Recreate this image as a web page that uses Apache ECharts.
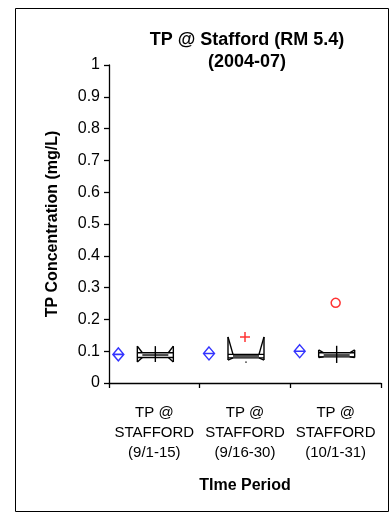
<!DOCTYPE html>
<html><head><meta charset="utf-8">
<script src="https://cdn.jsdelivr.net/npm/echarts@6/dist/echarts.min.js"></script>
<style>html,body{margin:0;padding:0;background:#fff}#c{width:391px;height:519px}</style>
</head><body><div id="c"></div>
<script>
const categories = ['TP @\nSTAFFORD\n(9/1-15)', 'TP @\nSTAFFORD\n(9/16-30)', 'TP @\nSTAFFORD\n(10/1-31)'];
const meanValues = [0.090, 0.093, 0.100];
const whiskerLow = [0.066, 0.072, 0.080];
const whiskerHigh = [0.116, 0.145, 0.104];
const boxLow = [0.080, 0.079, 0.082];
const boxHigh = [0.095, 0.090, 0.095];
const medianValues = [0.088, 0.085, 0.088];
const stemLow = [0.066, 0.064, 0.063];
const stemHigh = [0.116, 0.068, 0.117];
const plusOutliers = [[1, 0.145]];
const circleOutliers = [[2, 0.252]];
const yTicks = [0, 1, 0.1];

const FONT = 'Arial, "Liberation Sans", sans-serif';
const chart = echarts.init(document.getElementById('c'), null, {renderer: 'canvas'});

const boxData = categories.map((c, i) => [i, whiskerLow[i], boxLow[i], medianValues[i], boxHigh[i], whiskerHigh[i], stemLow[i], stemHigh[i]]);

function renderBox(params, api) {
  const i = api.value(0);
  const cx = api.coord([i, 0])[0] + 1;
  const y = v => api.coord([i, v])[1];
  const wl = y(api.value(1)), bl = y(api.value(2)), md = y(api.value(3)), bh = y(api.value(4)), wh = y(api.value(5));
  const sl = y(api.value(6)), sh = y(api.value(7));
  const hw = 18, iw = 13;
  const st = {stroke: '#000', lineWidth: 1.4, fill: null};
  const line = (x1, y1, x2, y2) => ({type: 'line', shape: {x1, y1, x2, y2}, style: st});
  return {type: 'group', children: [
    line(cx - hw, wh, cx - hw, wl),
    line(cx + hw, wh, cx + hw, wl),
    line(cx - hw, wh, cx - iw, bh),
    line(cx + hw, wh, cx + iw, bh),
    line(cx - hw, wl, cx - iw, bl),
    line(cx + hw, wl, cx + iw, bl),
    line(cx - hw, bh, cx + hw, bh),
    line(cx - hw, bl, cx + hw, bl),
    line(cx - iw, md, cx + iw, md),
    line(cx, sh, cx, sl)
  ]};
}

chart.setOption({
  backgroundColor: '#fff',
  animation: false,
  title: {
    text: 'TP @ Stafford (RM 5.4)\n(2004-07)',
    left: 242, top: 24, textAlign: 'center',
    textStyle: {fontFamily: FONT, fontWeight: 'bold', fontSize: 18, lineHeight: 22, color: '#000'}
  },
  graphic: [{type: 'rect', shape: {x: 15.5, y: 8.5, width: 373, height: 503}, style: {fill: null, stroke: '#000', lineWidth: 1}, silent: true}],
  grid: {left: 109, right: 10, top: 65, bottom: 136, containLabel: false},
  xAxis: {
    type: 'category', data: categories, boundaryGap: true,
    name: 'TIme Period', nameLocation: 'middle', nameGap: 95,
    nameTextStyle: {fontFamily: FONT, fontWeight: 'bold', fontSize: 16, color: '#000'},
    axisLine: {lineStyle: {color: '#000', width: 1.3}},
    axisTick: {show: true, length: 5, lineStyle: {color: '#000', width: 1.3}},
    axisLabel: {fontFamily: FONT, fontSize: 15, color: '#000', lineHeight: 20, margin: 20, interval: 0},
    splitLine: {show: false}
  },
  yAxis: {
    type: 'value', min: yTicks[0], max: yTicks[1], interval: yTicks[2],
    name: 'TP Concentration (mg/L)', nameLocation: 'middle', nameGap: 48, nameRotate: 90,
    nameTextStyle: {fontFamily: FONT, fontWeight: 'bold', fontSize: 16, color: '#000'},
    axisLine: {show: true, lineStyle: {color: '#000', width: 1.3}},
    axisTick: {show: true, length: 5, lineStyle: {color: '#000', width: 1.3}},
    axisLabel: {fontFamily: FONT, fontSize: 16, color: '#000', margin: 9},
    splitLine: {show: false}
  },
  series: [
    {type: 'custom', renderItem: renderBox, data: boxData, encode: {x: 0, y: [1, 5]}, z: 3},
    {type: 'scatter', data: meanValues.map((v, i) => [i, v]),
     symbol: 'path://M0,-6 L5,0 L0,6 L-5,0 Z M-5,0 L5,0', symbolSize: [11, 13], symbolOffset: [-36, 0],
     itemStyle: {color: 'rgba(0,0,0,0)', borderColor: '#0000ff', borderWidth: 1.4}},
    {type: 'scatter', data: plusOutliers,
     symbol: 'path://M0,5 L10,5 M5,0 L5,10', symbolSize: 10,
     itemStyle: {color: 'rgba(0,0,0,0)', borderColor: '#ff0000', borderWidth: 1.5}},
    {type: 'scatter', data: circleOutliers, symbol: 'circle', symbolSize: 9,
     itemStyle: {color: 'rgba(0,0,0,0)', borderColor: '#ff0000', borderWidth: 1.5}}
  ]
});
</script></body></html>
